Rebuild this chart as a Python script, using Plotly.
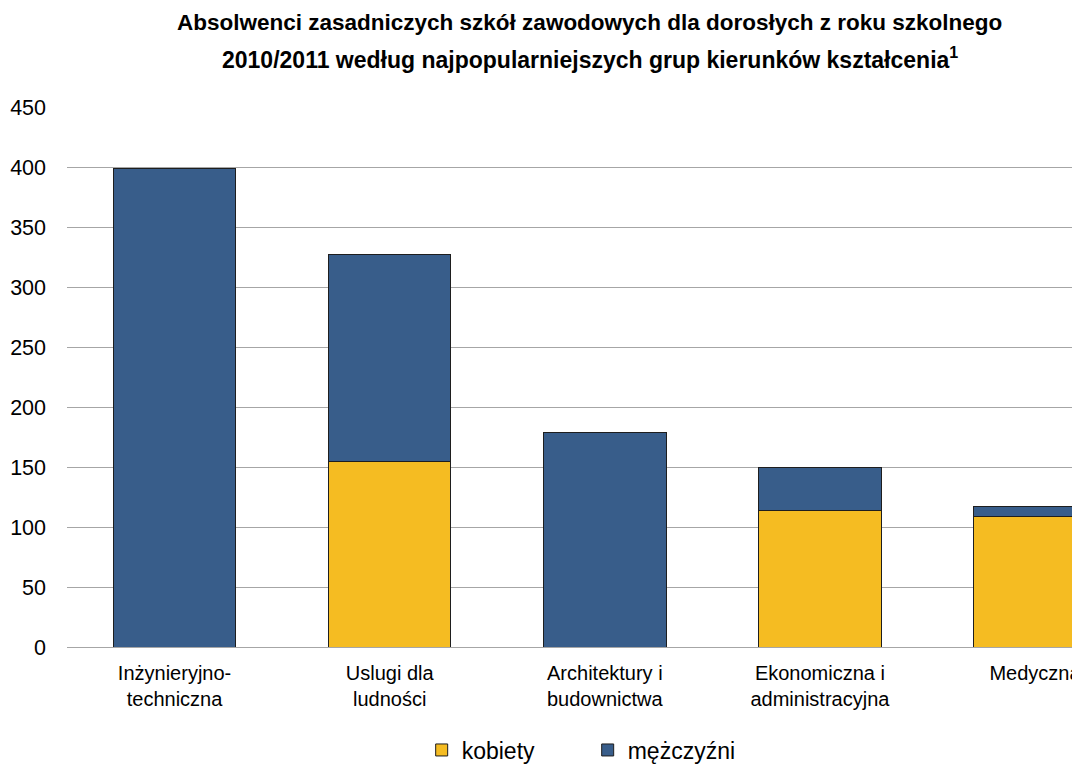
import plotly.graph_objects as go

categories = [
    "Inżynieryjno-<br>techniczna",
    "Uslugi dla<br>ludności",
    "Architektury i<br>budownictwa",
    "Ekonomiczna i<br>administracyjna",
    "Medyczna",
]
kobiety = [0, 155, 0, 114, 109]
mezczyzni = [399, 172, 179, 36, 8]

y_ticks = [0, 50, 100, 150, 200, 250, 300, 350, 400, 450]

title_lines = [
    "Absolwenci zasadniczych szkół zawodowych dla dorosłych z roku szkolnego",
    "2010/2011 według najpopularniejszych grup kierunków kształcenia<sup>1</sup>",
]

sans = "Liberation Sans, Arial, sans-serif"

fig = go.Figure()

fig.add_trace(go.Bar(
    x=categories,
    y=kobiety,
    name="kobiety",
    marker=dict(color="#F5BC22", line=dict(color="#1e1e1e", width=1)),
    width=0.57,
))
fig.add_trace(go.Bar(
    x=categories,
    y=mezczyzni,
    name="mężczyźni",
    marker=dict(color="#385D8A", line=dict(color="#1e1e1e", width=1)),
    width=0.57,
))

# title as two annotations so the line spacing matches
for i, line in enumerate(title_lines):
    fig.add_annotation(
        text=line,
        xref="paper", yref="paper",
        x=0.516, y=[1.157, 1.0907][i],
        xanchor="center", yanchor="middle",
        showarrow=False,
        font=dict(size=[22.5, 23][i], family=sans, color="#000000", weight="bold"),
    )

# page body adds 8px offset, so the figure is a bit smaller than the window
fig.update_layout(
    barmode="stack",
    width=1072,
    height=756,
    margin=dict(l=59, r=0, t=99, b=117),
    paper_bgcolor="white",
    plot_bgcolor="white",
    font=dict(family=sans, color="#000000"),
    showlegend=True,
    xaxis=dict(
        range=[-0.5, 4.209],
        showgrid=False,
        showline=False,
        ticks="",
        automargin=False,
        tickfont=dict(size=20, family=sans),
        ticklabelstandoff=12,
    ),
    yaxis=dict(
        range=[0, 450],
        tickvals=y_ticks,
        showgrid=True,
        gridcolor="#A6A6A6",
        gridwidth=1,
        zeroline=True,
        zerolinecolor="#A6A6A6",
        zerolinewidth=1,
        showline=False,
        ticks="",
        automargin=False,
        tickfont=dict(size=21.5, family=sans),
        ticklabelstandoff=20,
    ),
    legend=dict(
        orientation="h",
        x=0.514,
        xanchor="center",
        yref="container",
        y=0.0185,
        yanchor="middle",
        font=dict(size=23, family=sans),
        traceorder="normal",
        itemwidth=30,
        entrywidthmode="pixels",
        entrywidth=121,
    ),
)

fig.write_html("out.html")
